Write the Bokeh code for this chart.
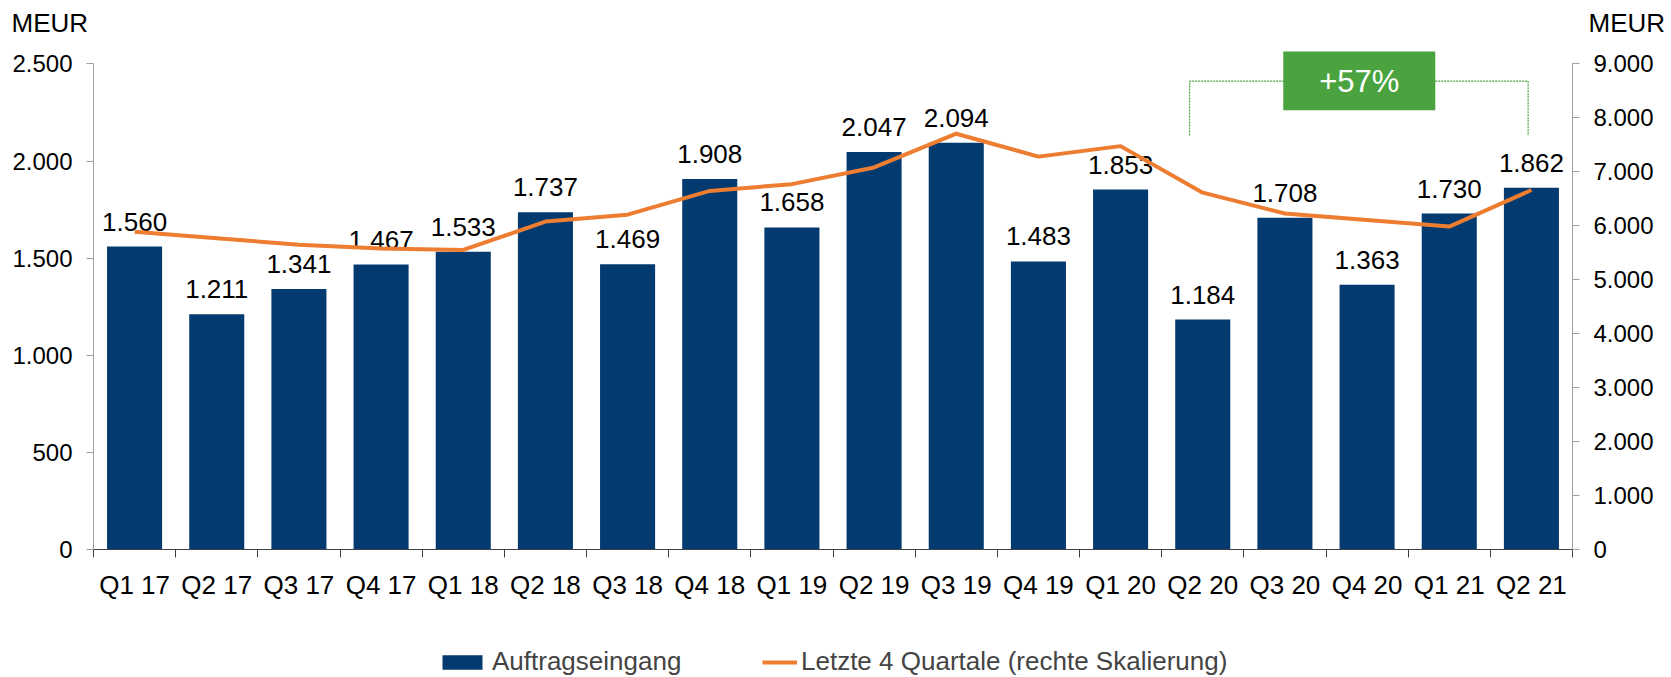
import numpy as np
from bokeh.plotting import figure
from bokeh.layouts import column
from bokeh.models import (Range1d, LinearAxis, FixedTicker, Legend, LegendItem,
                          ColumnDataSource)
from bokeh.core.properties import value
from bokeh.embed import file_html
from bokeh.resources import INLINE

quarters = ["Q1 17", "Q2 17", "Q3 17", "Q4 17", "Q1 18", "Q2 18", "Q3 18", "Q4 18",
            "Q1 19", "Q2 19", "Q3 19", "Q4 19", "Q1 20", "Q2 20", "Q3 20", "Q4 20",
            "Q1 21", "Q2 21"]
auftragseingang = [1560, 1211, 1341, 1467, 1533, 1737, 1469, 1908, 1658, 2047,
                   2094, 1483, 1853, 1184, 1708, 1363, 1730, 1862]
letzte_4_quartale = [5890, 5770, 5650, 5579, 5552, 6078, 6206, 6647, 6772, 7082,
                     7707, 7282, 7477, 6614, 6228, 6108, 5985, 6663]
left_ticks = [0, 500, 1000, 1500, 2000, 2500]
right_ticks = [0, 1000, 2000, 3000, 4000, 5000, 6000, 7000, 8000, 9000]
unit_label = "MEUR"
growth_label = "+57%"
bar_name = "Auftragseingang"
line_name = "Letzte 4 Quartale (rechte Skalierung)"

FONT = "Liberation Sans"
BLUE = "#033a6f"
ORANGE = "#ED7D31"
GREEN = "#4aa33f"
W = 1671

def de(v):
    return f"{int(v):,}".replace(",", ".")

def bare(fig):
    fig.outline_line_color = None
    fig.grid.visible = False
    fig.axis.visible = False

# ---- top strip with unit labels
top = figure(width=W, height=45, output_backend="svg", toolbar_location=None,
             x_range=Range1d(0, W), y_range=Range1d(45, 0),
             min_border=0, frame_align=False)
bare(top)
top.text(x=[11, 1588], y=[22, 22], text=[unit_label, unit_label],
         text_baseline="middle", text_align="left", text_font=value(FONT),
         text_font_size="26px", text_color="black")

# ---- main chart
n = len(quarters)
xc = np.arange(n) + 0.5
src = ColumnDataSource(dict(x=xc, bar=auftragseingang, line=letzte_4_quartale,
                            lab=[de(v) for v in auftragseingang]))

LEFT_END = 2595
p = figure(width=W, height=572, output_backend="svg", toolbar_location=None,
           x_range=Range1d(0, n), y_range=Range1d(0, LEFT_END),
           min_border_left=93, min_border_right=99, min_border_top=0,
           min_border_bottom=68)
p.extra_y_ranges = {"right": Range1d(0, LEFT_END * 3.6)}
p.outline_line_color = None
p.grid.visible = False

xa = p.xaxis[0]
xa.ticker = FixedTicker(ticks=list(xc), minor_ticks=list(range(n + 1)))
xa.major_label_overrides = {float(x): q for x, q in zip(xc, quarters)}
xa.major_tick_line_color = None
xa.major_tick_out = 0
xa.major_tick_in = 0
xa.minor_tick_out = 8
xa.minor_tick_in = 0
xa.minor_tick_line_color = "#404040"
xa.axis_line_color = "#404040"
xa.major_label_text_font = FONT
xa.major_label_text_font_size = "26px"
xa.major_label_text_color = "black"
xa.major_label_standoff = 12

def style_y(ax, ticks, top_val):
    ax.ticker = FixedTicker(ticks=ticks)
    ax.major_label_overrides = {t: de(t) for t in ticks}
    ax.bounds = (0, top_val)
    ax.axis_line_color = "#a0a0a0"
    ax.major_tick_line_color = "#a0a0a0"
    ax.major_tick_out = 7
    ax.major_tick_in = 0
    ax.minor_tick_line_color = None
    ax.major_label_text_font = FONT
    ax.major_label_text_font_size = "24px"
    ax.major_label_text_color = "black"
    ax.major_label_standoff = 14

style_y(p.yaxis[0], left_ticks, left_ticks[-1])
ra = LinearAxis(y_range_name="right")
style_y(ra, right_ticks, right_ticks[-1])
p.add_layout(ra, "right")

p.vbar(x="x", top="bar", width=0.67, source=src, fill_color=BLUE, line_color=None)
p.text(x="x", y="bar", text="lab", source=src, y_offset=-25,
       text_align="center", text_baseline="alphabetic",
       text_font=value(FONT), text_font_size="26px", text_color="black")
p.line(x="x", y="line", source=src, y_range_name="right",
       line_color=ORANGE, line_width=4)

# growth bracket and box
p.line(x=[13.34, 13.34, 17.46, 17.46], y=[2132, 2412, 2412, 2132],
       line_color=GREEN, line_width=1.2, line_dash="2 1")
p.quad(left=14.48, right=16.33, bottom=2261, top=2564, fill_color=GREEN,
       line_color=None)
p.text(x=[15.405], y=[2412], text=[growth_label], text_align="center",
       text_baseline="middle", text_font=value(FONT), text_font_size="31px",
       text_color="white")

# ---- bottom strip with legend
bot = figure(width=W, height=60, output_backend="svg", toolbar_location=None,
             x_range=Range1d(0, 1), y_range=Range1d(0, 1), min_border=0,
             frame_align=False)
bare(bot)
# legend-only renderers, placed entirely outside the visible range
r_bar = bot.vbar(x=[5], bottom=[-3], top=[-2], width=0.5, fill_color=BLUE,
                 line_color=None)
r_line = bot.line(x=[5, 6], y=[-5, -5], line_color=ORANGE, line_width=4)

def mk_leg(name, rend, loc, gw, standoff):
    return Legend(items=[LegendItem(label=name, renderers=[rend])], location=loc,
                  orientation="horizontal", glyph_width=gw, glyph_height=18,
                  label_standoff=standoff, padding=0, margin=0,
                  border_line_color=None, background_fill_alpha=0,
                  label_text_font=FONT, label_text_font_size="26px",
                  label_height=30)

bot.add_layout(mk_leg(bar_name, r_bar, (437, 0), 50, 5), "center")
bot.add_layout(mk_leg(line_name, r_line, (762, 0), 35, 4), "center")

layout = column(top, p, bot, spacing=0)
open("out.html", "w").write(file_html(layout, INLINE))
